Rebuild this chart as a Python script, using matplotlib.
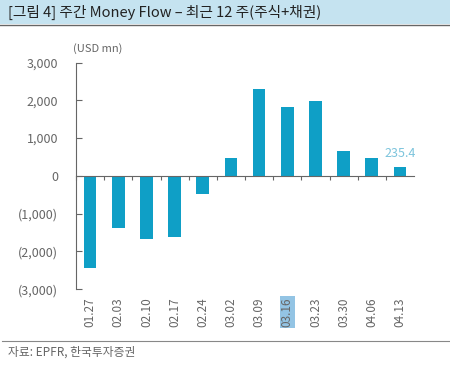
import matplotlib
matplotlib.use("Agg")
import matplotlib.pyplot as plt
import matplotlib.transforms as mtransforms
from matplotlib.patches import Rectangle
from matplotlib.lines import Line2D

plt.rcParams['font.family'] = ['Noto Sans CJK KR', 'DejaVu Sans']

weeks = ['01.27', '02.03', '02.10', '02.17', '02.24', '03.02',
         '03.09', '03.16', '03.23', '03.30', '04.06', '04.13']
flows = [-2430, -1390, -1680, -1620, -480, 460,
         2290, 1820, 1990, 660, 470, 235.4]
yticks = [-3000, -2000, -1000, 0, 1000, 2000, 3000]
ylabels = ['(3,000)', '(2,000)', '(1,000)', '0', '1,000', '2,000', '3,000']

bar_color = '#0f9fc6'
text_color = '#666666'

fig = plt.figure(figsize=(4.5, 3.66), dpi=100)

# title band
fig.patches.append(Rectangle((0, 0.934), 1, 0.066, transform=fig.transFigure,
                             facecolor='#c5e3f0', edgecolor='none', zorder=0))
fig.lines.append(Line2D([0, 1], [0.932, 0.932], transform=fig.transFigure,
                        color='#666666', lw=1.0))
fig.text(0.018, 0.966, '[그림 4] 주간 Money Flow – 최근 12 주(주식+채권)',
         fontsize=10.6, color='#222222', va='center', ha='left')

# footer
fig.lines.append(Line2D([0.005, 1], [0.068, 0.068], transform=fig.transFigure,
                        color='#888888', lw=0.8))
fig.text(0.018, 0.038, '자료: EPFR, 한국투자증권', fontsize=8.5,
         color=text_color, va='center', ha='left')

ax = fig.add_axes([0.169, 0.210, 0.751, 0.619])
x = list(range(len(weeks)))
ax.bar(x, flows, width=0.45, color=bar_color, zorder=2)

ax.set_ylim(-3000, 3000)
ax.set_xlim(-0.5, len(weeks) - 0.5)
ax.set_yticks(yticks)
ax.set_yticklabels(ylabels)
ax.tick_params(axis='y', direction='in', length=4, color='#666666',
               labelcolor=text_color, labelsize=9, pad=13)

for s in ['top', 'right']:
    ax.spines[s].set_visible(False)
ax.spines['left'].set_color('#666666')
ax.spines['bottom'].set_position(('data', 0))
ax.spines['bottom'].set_color('#666666')

# ticks between categories on the zero line
ax.set_xticks([i + 0.5 for i in x[:-1]] + [-0.5])
ax.set_xticklabels([])
ax.tick_params(axis='x', direction='out', length=3, color='#666666')

trans = mtransforms.blended_transform_factory(ax.transData, ax.transAxes)
for i, w in zip(x, weeks):
    kw = {}
    if w == '03.16':
        kw['bbox'] = dict(boxstyle='square,pad=0.1', facecolor='#93c4e4',
                          edgecolor='none')
    ax.text(i, -0.035, w, transform=trans, rotation=90, ha='center', va='top',
            fontsize=8.5, color=text_color, **kw)

ax.text(x[-1], flows[-1] + 180, '235.4', ha='center', va='bottom',
        fontsize=9, color='#7cc4dc')

ax.text(-0.008, 1.04, '(USD mn)', transform=ax.transAxes, fontsize=8,
        color=text_color, ha='left', va='bottom')

fig.savefig('out.png', dpi=100)
